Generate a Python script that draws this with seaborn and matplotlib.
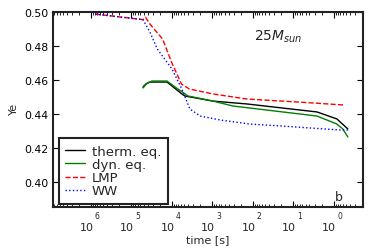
import math

import matplotlib
matplotlib.use("Agg")
import matplotlib.pyplot as plt
import matplotlib.ticker as mticker
import matplotlib.transforms as mtransforms
import pandas as pd
import seaborn as sns

# ---------------------------
# data (time in seconds, Ye)
# ---------------------------

therm_t = [5.2e4, 4.4e4, 3.5e4, 1.33e4, 1.0e4, 5.7e3, 4.8e3, 970, 140, 2.6, 0.84, 0.45]
therm_ye = [0.4559, 0.4576, 0.4588, 0.4588, 0.4565, 0.4518, 0.4506, 0.4476, 0.4459, 0.4412, 0.4371, 0.4312]

dyn_t = [5.2e4, 4.1e4, 3.1e4, 1.33e4, 8.4e3, 4.0e3, 970, 310, 2.6, 0.84, 0.6, 0.45]
dyn_ye = [0.4553, 0.4582, 0.4594, 0.4594, 0.4559, 0.4506, 0.4476, 0.4447, 0.4388, 0.4341, 0.4312, 0.4265]

lmp_t = [7.9e5, 5.2e4, 4.5e4, 3.5e4, 1.7e4, 1.03e4, 5.8e3, 3.7e3, 970, 140, 8.2, 0.57]
lmp_ye = [0.4988, 0.4955, 0.4969, 0.4929, 0.4841, 0.4706, 0.4576, 0.4547, 0.4518, 0.4488, 0.4471, 0.4453]

ww_t = [7.9e5, 5.2e4, 3.5e4, 2.3e4, 1.0e4, 5.7e3, 3.6e3, 2.0e3, 650, 120, 21.5, 0.71, 0.45]
ww_ye = [0.4988, 0.4955, 0.4882, 0.4782, 0.4665, 0.4547, 0.4429, 0.4388, 0.4365, 0.4341, 0.4330, 0.4306, 0.4306]

x_ticks = [1e6, 1e5, 1e4, 1e3, 1e2, 1e1, 1e0]
y_ticks = [0.40, 0.42, 0.44, 0.46, 0.48, 0.50]

# ---------------------------
# style
# ---------------------------

sns.set_style("ticks")
plt.rcParams["font.family"] = ["DejaVu Sans"]
plt.rcParams["mathtext.fontset"] = "dejavusans"

fig = plt.figure(figsize=(3.74, 2.53), dpi=100)
ax = fig.add_axes([0.1417, 0.1779, 0.8289, 0.7707])

series = [
    (therm_t, therm_ye, "therm. eq.", "black", "-"),
    (dyn_t, dyn_ye, "dyn. eq.", "#008000", "-"),
    (lmp_t, lmp_ye, "LMP", "red", "--"),
    (ww_t, ww_ye, "WW", "blue", ":"),
]

for t, ye, name, color, ls in series:
    df = pd.DataFrame({"t": t, "ye": ye})
    sns.lineplot(
        data=df, x="t", y="ye", ax=ax,
        estimator=None, sort=False,
        color=color, linestyle=ls, linewidth=1.0,
        label=name
    )

ax.set_xscale("log")
ax.set_xlim(8.7e6, 0.19)
ax.set_ylim(0.3853, 0.50)

ax.xaxis.set_major_locator(mticker.FixedLocator(x_ticks))
ax.xaxis.set_major_formatter(mticker.NullFormatter())
ax.xaxis.set_minor_locator(mticker.LogLocator(base=10, subs=range(2, 10), numticks=20))
ax.xaxis.set_minor_formatter(mticker.NullFormatter())

ax.set_yticks(y_ticks)
ax.yaxis.set_major_formatter(mticker.FormatStrFormatter("%.2f"))

ax.tick_params(which="both", direction="in", top=True, right=True,
               labelsize=7.8, colors="black")
ax.tick_params(which="major", length=4, width=0.8)
ax.tick_params(which="minor", length=2, width=0.6)

# old-style "10" + raised exponent tick labels
base = mtransforms.blended_transform_factory(ax.transData, ax.transAxes)
for tk in x_ticks:
    e = int(round(math.log10(tk)))
    tr10 = mtransforms.offset_copy(base, fig=fig, x=2.5, y=-23, units="dots")
    ax.text(tk, 0, "10", transform=tr10, ha="right", va="baseline",
            fontsize=8)
    tre = mtransforms.offset_copy(base, fig=fig, x=3.5, y=-11, units="dots")
    ax.text(tk, 0, str(e), transform=tre, ha="left", va="baseline",
            fontsize=5.5)

for sp in ax.spines.values():
    sp.set_visible(True)
    sp.set_linewidth(1.5)
    sp.set_color("#222222")

ax.set_xlabel("time [s]", fontsize=8)
ax.xaxis.set_label_coords(0.5, -0.14)
ax.set_ylabel("Ye", fontsize=8)
ax.yaxis.set_label_coords(-0.11, 0.51)

ax.text(0.726, 0.877, r"$25M_{sun}$", transform=ax.transAxes,
        ha="center", va="center", fontsize=10)
ax.text(0.923, 0.036, "b", transform=ax.transAxes,
        ha="center", va="baseline", fontsize=9)

leg = ax.legend(loc="lower left", bbox_to_anchor=(0.019, 0.015),
                fontsize=9.5, frameon=True, fancybox=False,
                handlelength=1.5, handletextpad=0.5,
                borderpad=0.5, labelspacing=0.02, borderaxespad=0.0)
leg.get_frame().set_edgecolor("#222222")
leg.get_frame().set_linewidth(1.5)
leg.get_frame().set_alpha(1.0)

fig.savefig("out.png", dpi=100)
plt.close(fig)
